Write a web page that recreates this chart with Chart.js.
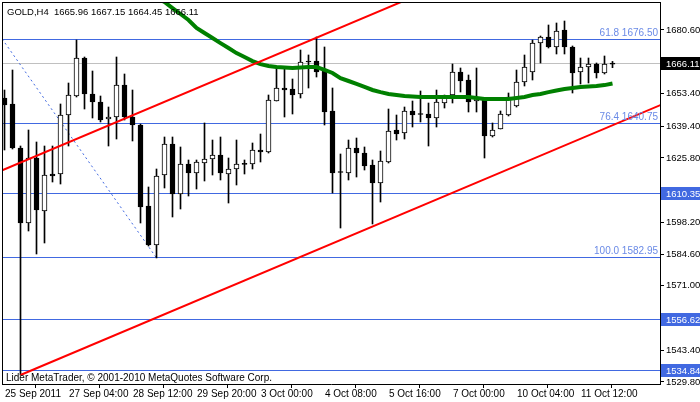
<!DOCTYPE html>
<html lang="en">
<head>
    <meta charset="UTF-8">
    <title>GOLD,H4</title>
    <script src="https://cdn.jsdelivr.net/npm/chart.js"></script>
    <style>
        html, body { margin: 0; padding: 0; background: #fff; }
        canvas { display: block; }
    </style>
</head>
<body>
    <canvas id="chart" width="700" height="402"></canvas>

    <script>
        // H4 bars, index 0 = first bar on screen (25 Sep 2011)
        const opens = [1651.47, 1648.90, 1630.05, 1597.92, 1625.76, 1603.06, 1618.91, 1618.91, 1644.18, 1652.32,
                       1668.60, 1653.18, 1649.75, 1642.47, 1643.33, 1657.04, 1643.33, 1639.90, 1605.20, 1588.49,
                       1618.48, 1631.76, 1610.34, 1623.19, 1619.34, 1623.62, 1625.33, 1627.05, 1618.91, 1621.05,
                       1623.19, 1623.19, 1629.19, 1628.33, 1650.18, 1655.75, 1655.32, 1653.18, 1666.89, 1667.32,
                       1663.46, 1645.90, 1619.77, 1619.34, 1630.05, 1627.90, 1622.76, 1615.05, 1624.05, 1637.76,
                       1636.47, 1645.90, 1644.61, 1644.61, 1642.90, 1649.32, 1652.75, 1662.61, 1659.18, 1650.18,
                       1650.61, 1635.19, 1638.19, 1644.18, 1648.04, 1658.32, 1662.61, 1675.03, 1677.60, 1673.32,
                       1680.60, 1673.32, 1662.61, 1664.75, 1666.03, 1662.18, 1665.96];
        const highs = [1654.89, 1663.46, 1630.90, 1637.76, 1632.62, 1630.90, 1630.90, 1648.90, 1657.89, 1676.31,
                       1669.03, 1663.03, 1652.32, 1647.61, 1669.03, 1661.75, 1654.89, 1640.30, 1613.34, 1621.05,
                       1634.76, 1634.76, 1630.48, 1624.91, 1624.91, 1640.76, 1633.47, 1634.76, 1625.76, 1633.47,
                       1624.91, 1632.19, 1636.04, 1652.75, 1664.75, 1664.75, 1659.61, 1672.03, 1669.90, 1677.60,
                       1673.32, 1655.75, 1627.48, 1633.47, 1634.33, 1630.48, 1624.91, 1628.76, 1646.75, 1644.18,
                       1647.61, 1650.18, 1654.47, 1649.32, 1654.89, 1652.75, 1666.03, 1664.32, 1661.32, 1664.32,
                       1651.47, 1640.76, 1645.90, 1653.61, 1663.46, 1669.89, 1676.31, 1678.03, 1682.74, 1683.60,
                       1684.45, 1673.75, 1668.60, 1668.60, 1666.46, 1669.46, 1667.15];
        const lows = [1629.19, 1629.62, 1532.80, 1594.49, 1584.64, 1589.35, 1615.48, 1614.62, 1630.90, 1651.90,
                      1646.75, 1642.90, 1641.19, 1630.90, 1633.90, 1642.04, 1633.05, 1597.92, 1588.06, 1582.95,
                      1612.91, 1600.49, 1603.91, 1609.48, 1612.48, 1615.91, 1618.48, 1616.34, 1606.48, 1614.20,
                      1618.91, 1621.05, 1624.05, 1627.90, 1650.18, 1643.33, 1644.61, 1651.47, 1655.75, 1660.46,
                      1639.90, 1610.77, 1595.77, 1616.34, 1617.62, 1620.62, 1597.49, 1606.91, 1623.62, 1633.47,
                      1633.90, 1639.04, 1641.19, 1630.90, 1639.04, 1647.18, 1649.32, 1654.04, 1645.47, 1645.47,
                      1625.76, 1634.76, 1638.19, 1643.76, 1647.61, 1656.61, 1659.18, 1666.46, 1672.89, 1670.32,
                      1670.32, 1653.61, 1657.46, 1657.89, 1660.04, 1661.75, 1664.45];
        const closes = [1648.47, 1630.05, 1597.92, 1625.76, 1603.49, 1618.48, 1618.05, 1644.18, 1652.75, 1668.60,
                        1653.18, 1649.75, 1642.04, 1643.33, 1657.04, 1643.33, 1639.90, 1604.77, 1588.49, 1618.05,
                        1631.76, 1610.34, 1623.19, 1619.34, 1624.05, 1625.33, 1627.05, 1619.34, 1621.05, 1623.19,
                        1623.00, 1629.19, 1628.33, 1650.61, 1655.75, 1654.89, 1652.75, 1666.89, 1667.32, 1662.61,
                        1645.47, 1619.34, 1619.55, 1630.05, 1627.90, 1622.34, 1615.05, 1624.48, 1637.33, 1636.04,
                        1645.90, 1644.18, 1644.40, 1642.90, 1649.75, 1651.47, 1662.61, 1658.75, 1649.75, 1651.47,
                        1635.19, 1637.76, 1644.61, 1651.90, 1658.32, 1664.75, 1675.03, 1677.60, 1673.32, 1680.17,
                        1673.32, 1662.18, 1664.75, 1666.03, 1662.18, 1666.03, 1666.11];

        // moving average, first value belongs to bar maStart
        const maStart = 18;
        const maValues = [1697.0, 1694.3, 1692.6, 1690.0, 1687.45, 1684.9, 1681.5, 1679.3, 1677.2, 1675.0,
                          1672.9, 1670.7, 1669.0, 1667.3, 1666.0, 1665.2, 1664.75, 1664.5, 1664.3, 1664.5,
                          1664.75, 1664.75, 1663.5, 1662.2, 1660.0, 1658.75, 1657.5, 1656.2, 1654.9, 1654.0,
                          1653.2, 1652.75, 1652.3, 1652.1, 1651.9, 1651.9, 1651.9, 1651.9, 1651.9, 1651.9,
                          1651.9, 1651.5, 1651.0, 1651.0, 1651.0, 1651.0, 1651.5, 1651.9, 1652.75, 1653.2,
                          1654.0, 1654.7, 1655.3, 1655.75, 1656.2, 1656.4, 1656.6, 1657.0, 1657.7];

        const xTickBars = [0, 8, 16, 24, 32, 40, 48, 56, 64, 72];
        const xTickLabels = ['25 Sep 2011', '27 Sep 04:00', '28 Sep 12:00', '29 Sep 20:00', '3 Oct 00:00',
                             '4 Oct 08:00', '5 Oct 16:00', '7 Oct 00:00', '10 Oct 04:00', '11 Oct 12:00'];
        const yTickValues = [1680.60, 1653.40, 1639.40, 1625.80, 1598.20, 1584.60, 1571.00, 1543.40, 1529.80];

        const levelPrices = [1676.50, 1640.75, 1610.35, 1582.95, 1556.62, 1534.84];
        const boxedLevels = [1610.35, 1556.62, 1534.84];
        const fibRatios = ['61.8', '76.4', '100.0'];
        const fibPrices = [1676.50, 1640.75, 1582.95];
        const fibLine = [[-0.3, 1676.8], [19, 1582.95]];
        const upperChannel = [[-0.5, 1620.2], [50, 1693.2]];
        const lowerChannel = [[2, 1532.8], [82, 1648.44]];
        const symbol = 'GOLD,H4';

        const last = opens.length - 1;
        const bid = closes[last];
        const xMin = -0.3125, xMax = 81.9375;
        const yMin = 1528.943, yMax = 1692.595;

        const blue = '#4169E1';
        const font = "'Liberation Sans', Arial, sans-serif";
        Chart.defaults.font.family = font;
        Chart.defaults.font.size = 10;
        Chart.defaults.color = '#000';

        const pts = arr => arr.map(p => ({ x: p[0], y: p[1] }));
        const hline = v => [{ x: xMin, y: v }, { x: xMax, y: v }];

        const datasets = [];
        levelPrices.forEach(v => datasets.push({
            type: 'line', data: hline(v), borderColor: blue, borderWidth: 1,
            pointRadius: 0, order: 10, crisp: true
        }));
        datasets.push({
            type: 'line', data: hline(bid), borderColor: '#c0c0c0', borderWidth: 1,
            pointRadius: 0, order: 10, crisp: true
        });
        datasets.push({
            type: 'line', data: pts(fibLine), borderColor: blue, borderWidth: 1,
            borderDash: [2, 3], pointRadius: 0, order: 9
        });
        datasets.push({
            type: 'bar', data: lows.map((l, i) => ({ x: i, y: [l, highs[i]] })),
            backgroundColor: '#000', borderWidth: 0, barThickness: 1, grouped: false, order: 6
        });
        datasets.push({
            type: 'bar', data: opens.map((o, i) => ({ x: i, y: [o, closes[i]] })),
            backgroundColor: opens.map((o, i) => closes[i] - o > 0.5 ? '#fff' : '#000'),
            borderColor: '#000', borderWidth: 1, borderSkipped: false,
            barThickness: 5, minBarLength: 1, grouped: false, order: 5
        });
        datasets.push({
            type: 'line', data: maValues.map((v, k) => ({ x: maStart + k, y: v })),
            borderColor: '#008000', borderWidth: 4, pointRadius: 0, order: 3
        });
        datasets.push({
            type: 'line', data: pts(upperChannel), borderColor: '#ff0000', borderWidth: 2,
            pointRadius: 0, order: 2
        });
        datasets.push({
            type: 'line', data: pts(lowerChannel), borderColor: '#ff0000', borderWidth: 2,
            pointRadius: 0, order: 2
        });

        // snap the 1px horizontal levels onto a whole pixel row so they stay sharp
        const crispLines = {
            id: 'crispLines',
            beforeDatasetDraw(chart, args) {
                const ds = chart.data.datasets[args.index];
                if (!ds.crisp) return;
                const y = chart.scales.y.getPixelForValue(ds.data[0].y);
                chart.ctx.save();
                chart.ctx.translate(0, Math.floor(y) + 0.5 - y);
            },
            afterDatasetDraw(chart, args) {
                if (chart.data.datasets[args.index].crisp) chart.ctx.restore();
            }
        };

        const extras = {
            id: 'extras',
            beforeDraw(chart) {
                const ctx = chart.ctx;
                ctx.save();
                ctx.fillStyle = '#fff';
                ctx.fillRect(0, 0, chart.width, chart.height);
                ctx.restore();
            },
            afterDraw(chart) {
                const ctx = chart.ctx;
                const a = chart.chartArea;
                const ys = chart.scales.y;
                ctx.save();
                // frame
                ctx.fillStyle = '#000';
                ctx.fillRect(a.left, a.top, 1, a.bottom - a.top);
                ctx.fillRect(a.left, a.top, a.right - a.left, 1);

                // fibo level captions
                ctx.font = '10px ' + font;
                ctx.textAlign = 'right';
                ctx.textBaseline = 'alphabetic';
                ctx.fillStyle = '#6a8ae6';
                fibPrices.forEach((v, i) => {
                    ctx.fillText(fibRatios[i] + ' ' + v.toFixed(2), a.right - 2, Math.floor(ys.getPixelForValue(v)) - 3);
                });

                // price boxes on the axis
                ctx.font = '9.5px ' + font;
                ctx.textAlign = 'left';
                ctx.textBaseline = 'middle';
                const box = (v, bg) => {
                    const y = Math.floor(ys.getPixelForValue(v));
                    ctx.fillStyle = bg;
                    ctx.fillRect(a.right + 1, y - 6, chart.width - a.right - 1, 13);
                    ctx.fillStyle = '#fff';
                    ctx.fillText(v.toFixed(2), a.right + 6, y + 1);
                };
                boxedLevels.forEach(v => box(v, blue));
                box(bid, '#000');

                // header and footer
                ctx.fillStyle = '#000';
                ctx.textBaseline = 'alphabetic';
                const ohlc = [opens[last], highs[last], lows[last], closes[last]].map(v => v.toFixed(2)).join(' ');
                ctx.fillText(symbol + '  ' + ohlc, 7, 15);
                ctx.font = '10px ' + font;
                ctx.fillText('Lider MetaTrader, \u00a9 2001-2010 MetaQuotes Software Corp.', 6, 381);
                ctx.restore();
            }
        };

        new Chart(document.getElementById('chart'), {
            type: 'bar',
            data: { datasets: datasets },
            options: {
                responsive: false,
                animation: false,
                devicePixelRatio: 1,
                layout: { padding: { left: 2, top: 2, right: 0, bottom: 0 } },
                plugins: { legend: { display: false }, tooltip: { enabled: false } },
                scales: {
                    x: {
                        type: 'linear', min: xMin, max: xMax, offset: false,
                        grid: { drawOnChartArea: false, drawTicks: true, tickLength: 4, color: '#000' },
                        border: { display: true, color: '#000' },
                        ticks: {
                            autoSkip: false, maxRotation: 0, align: 'start', labelOffset: 2, padding: 0,
                            callback: (v, i) => xTickLabels[i]
                        },
                        afterBuildTicks: s => { s.ticks = xTickBars.map(b => ({ value: b - 0.1875 })); },
                        afterFit: s => { s.height = 18; s.paddingLeft = 0; s.paddingRight = 0; }
                    },
                    y: {
                        type: 'linear', position: 'right', min: yMin, max: yMax,
                        grid: { drawOnChartArea: false, drawTicks: true, tickLength: 4, color: '#000' },
                        border: { display: true, color: '#000' },
                        ticks: { autoSkip: false, padding: 2, font: { size: 9.5 }, callback: v => v.toFixed(2) },
                        afterBuildTicks: s => { s.ticks = yTickValues.map(v => ({ value: v })); },
                        afterFit: s => { s.width = 40; s.paddingTop = 0; s.paddingBottom = 0; }
                    }
                }
            },
            plugins: [crispLines, extras]
        });
    </script>
</body>
</html>
